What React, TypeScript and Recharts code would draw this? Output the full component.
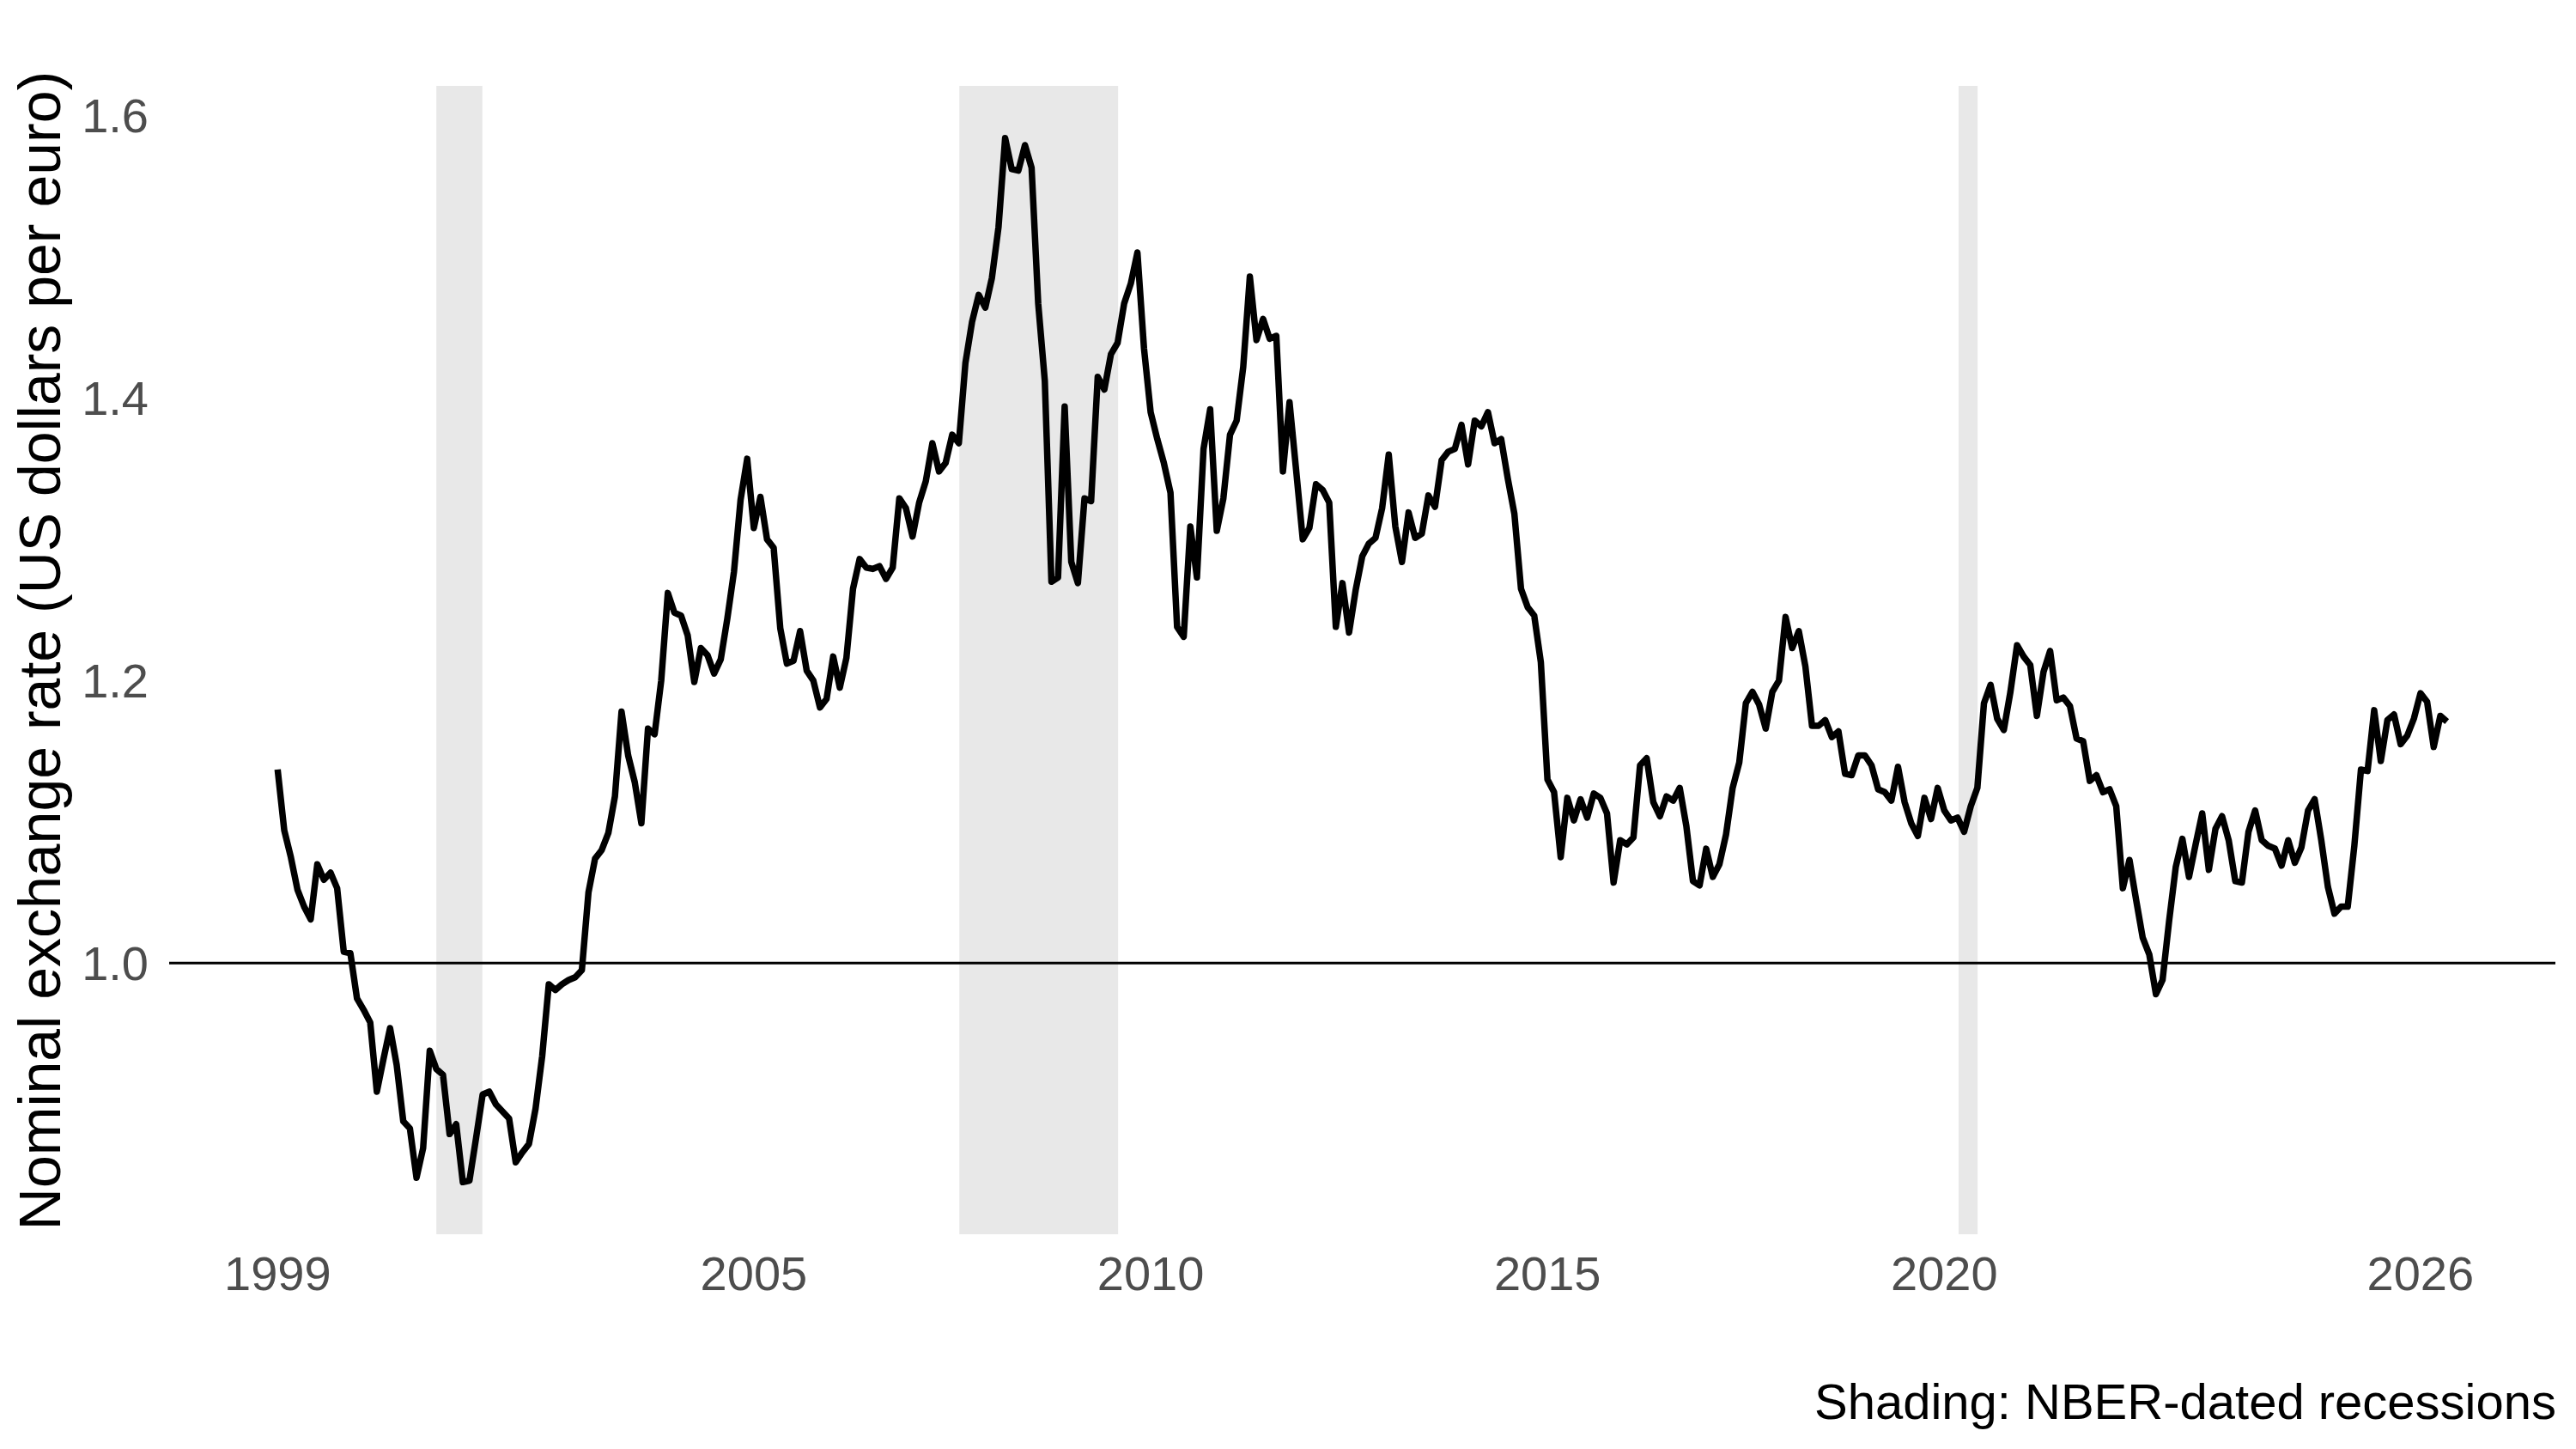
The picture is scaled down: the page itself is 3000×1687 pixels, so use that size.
import React from 'react';
import { LineChart, Line, XAxis, YAxis, ReferenceArea, ReferenceLine, Label } from 'recharts';

// end-of-month US dollars per euro, one array per year (Jan..Dec)
const startYear = 1999;
const r1999 = [1.137, 1.094, 1.075, 1.052, 1.040, 1.031, 1.070, 1.059, 1.064, 1.053, 1.008, 1.007];
const r2000 = [0.975, 0.967, 0.958, 0.909, 0.932, 0.954, 0.928, 0.888, 0.883, 0.848, 0.869, 0.938];
const r2001 = [0.925, 0.921, 0.879, 0.886, 0.845, 0.846, 0.876, 0.907, 0.909, 0.900, 0.895, 0.890];
const r2002 = [0.859, 0.866, 0.872, 0.897, 0.934, 0.985, 0.981, 0.985, 0.988, 0.990, 0.995, 1.050];
const r2003 = [1.074, 1.080, 1.092, 1.118, 1.178, 1.147, 1.128, 1.099, 1.166, 1.162, 1.200, 1.262];
const r2004 = [1.248, 1.246, 1.232, 1.199, 1.223, 1.218, 1.205, 1.215, 1.244, 1.277, 1.328, 1.357];
const r2005 = [1.308, 1.330, 1.300, 1.294, 1.237, 1.212, 1.214, 1.235, 1.207, 1.200, 1.181, 1.187];
const r2006 = [1.217, 1.195, 1.216, 1.265, 1.286, 1.280, 1.279, 1.281, 1.272, 1.280, 1.329, 1.322];
const r2007 = [1.302, 1.326, 1.341, 1.368, 1.348, 1.354, 1.374, 1.368, 1.425, 1.454, 1.473, 1.464];
const r2008 = [1.485, 1.521, 1.584, 1.562, 1.561, 1.579, 1.563, 1.467, 1.412, 1.270, 1.273, 1.394];
const r2009 = [1.284, 1.269, 1.329, 1.327, 1.415, 1.406, 1.431, 1.439, 1.467, 1.481, 1.503, 1.435];
const r2010 = [1.390, 1.371, 1.354, 1.333, 1.238, 1.231, 1.309, 1.273, 1.364, 1.392, 1.306, 1.329];
const r2011 = [1.374, 1.384, 1.422, 1.486, 1.441, 1.456, 1.442, 1.444, 1.348, 1.397, 1.349, 1.300];
const r2012 = [1.308, 1.339, 1.335, 1.326, 1.238, 1.269, 1.234, 1.264, 1.288, 1.297, 1.301, 1.322];
const r2013 = [1.360, 1.309, 1.284, 1.319, 1.301, 1.304, 1.331, 1.323, 1.356, 1.362, 1.364, 1.381];
const r2014 = [1.353, 1.384, 1.380, 1.390, 1.368, 1.371, 1.343, 1.318, 1.265, 1.252, 1.246, 1.213];
const r2015 = [1.130, 1.121, 1.075, 1.117, 1.101, 1.116, 1.103, 1.120, 1.117, 1.106, 1.057, 1.087];
const r2016 = [1.084, 1.089, 1.140, 1.145, 1.114, 1.104, 1.118, 1.115, 1.124, 1.097, 1.058, 1.055];
const r2017 = [1.081, 1.061, 1.070, 1.091, 1.124, 1.142, 1.184, 1.192, 1.183, 1.166, 1.192, 1.200];
const r2018 = [1.245, 1.223, 1.235, 1.210, 1.168, 1.168, 1.172, 1.160, 1.164, 1.134, 1.133, 1.147];
const r2019 = [1.147, 1.140, 1.123, 1.121, 1.115, 1.139, 1.114, 1.099, 1.090, 1.117, 1.102, 1.124];
const r2020 = [1.108, 1.101, 1.103, 1.093, 1.111, 1.124, 1.184, 1.197, 1.173, 1.165, 1.192, 1.225];
const r2021 = [1.217, 1.211, 1.175, 1.206, 1.221, 1.186, 1.188, 1.182, 1.159, 1.157, 1.129, 1.133];
const r2022 = [1.121, 1.123, 1.111, 1.053, 1.073, 1.045, 1.018, 1.006, 0.978, 0.988, 1.030, 1.068];
const r2023 = [1.088, 1.061, 1.084, 1.106, 1.066, 1.095, 1.104, 1.087, 1.058, 1.057, 1.093, 1.108];
const r2024 = [1.087, 1.083, 1.081, 1.069, 1.087, 1.071, 1.082, 1.108, 1.116, 1.087, 1.054, 1.035];
const r2025 = [1.040, 1.040, 1.083, 1.137, 1.136, 1.179, 1.143, 1.172, 1.176, 1.155, 1.161, 1.173];
const r2026 = [1.191, 1.185, 1.153, 1.175, 1.171];

const ratesByYear = [
  r1999, r2000, r2001, r2002, r2003, r2004, r2005, r2006, r2007, r2008,
  r2009, r2010, r2011, r2012, r2013, r2014, r2015, r2016, r2017, r2018,
  r2019, r2020, r2021, r2022, r2023, r2024, r2025, r2026,
];

const xTicks = [1999, 2005, 2010, 2015, 2020, 2026];
const yTicks = [1.0, 1.2, 1.4, 1.6];

// NBER recession shading, decimal years
const recessionStart = [2001.0, 2007.59, 2020.18];
const recessionEnd = [2001.58, 2009.59, 2020.42];

const data = ratesByYear.flatMap((months, yi) =>
  months.map((rate, mi) => ({ t: startYear + yi + mi / 12, rate }))
);

// ggplot-style 5% expansion
const expand = (lo: number, hi: number): [number, number] => {
  const pad = (hi - lo) * 0.05;
  return [lo - pad, hi + pad];
};
const rates = data.map((d) => d.rate);
const xDomain = expand(data[0].t, data[data.length - 1].t);
const yDomain = expand(Math.min(...rates), Math.max(...rates));

const FONT = '"Liberation Sans", Arial, Helvetica, sans-serif';

const YTitle = (props: any) => {
  const vb = props.viewBox;
  const cx = 70;
  const cy = vb.y + vb.height / 2 - 11;
  return (
    <text
      x={cx}
      y={cy}
      transform={`rotate(-90 ${cx} ${cy})`}
      textAnchor="middle"
      fontSize={68}
      fontFamily={FONT}
      fill="#000"
    >
      Nominal exchange rate (US dollars per euro)
    </text>
  );
};

const Caption = () => (
  <text x={2977} y={1652} textAnchor="end" fontSize={58} fontFamily={FONT} fill="#000">
    Shading: NBER-dated recessions
  </text>
);

export default function App() {
  return (
    <div style={{ position: 'absolute', left: 0, top: 0, width: 3000, height: 1687, background: '#fff' }}>
      <LineChart
        width={3000}
        height={1687}
        data={data}
        margin={{ top: 100, right: 24, bottom: 0, left: 0 }}
        style={{ fontFamily: FONT }}
      >
        <XAxis
          dataKey="t"
          type="number"
          domain={xDomain}
          ticks={xTicks}
          interval={0}
          height={250}
          axisLine={false}
          tickLine={false}
          tickSize={0}
          tickMargin={25}
          tick={{ fill: '#4d4d4d', fontSize: 56, fontFamily: FONT }}
        >
          <Label content={<Caption />} />
        </XAxis>
        <YAxis
          type="number"
          domain={yDomain}
          ticks={yTicks}
          interval={0}
          width={197}
          axisLine={false}
          tickLine={false}
          tickSize={0}
          tickMargin={24}
          tickFormatter={(v: number) => v.toFixed(1)}
          tick={{ fill: '#4d4d4d', fontSize: 56, fontFamily: FONT }}
        >
          <Label content={<YTitle />} />
        </YAxis>
        {recessionStart.map((s, i) => (
          <ReferenceArea
            key={s}
            x1={s}
            x2={recessionEnd[i]}
            y1={yDomain[0]}
            y2={yDomain[1]}
            fill="#e8e8e8"
            fillOpacity={1}
            stroke="none"
          />
        ))}
        <ReferenceLine y={1} stroke="#000" strokeWidth={3} />
        <Line
          type="linear"
          dataKey="rate"
          stroke="#000"
          strokeWidth={7.5}
          strokeLinejoin="round"
          dot={false}
          activeDot={false}
          isAnimationActive={false}
        />
      </LineChart>
    </div>
  );
}
